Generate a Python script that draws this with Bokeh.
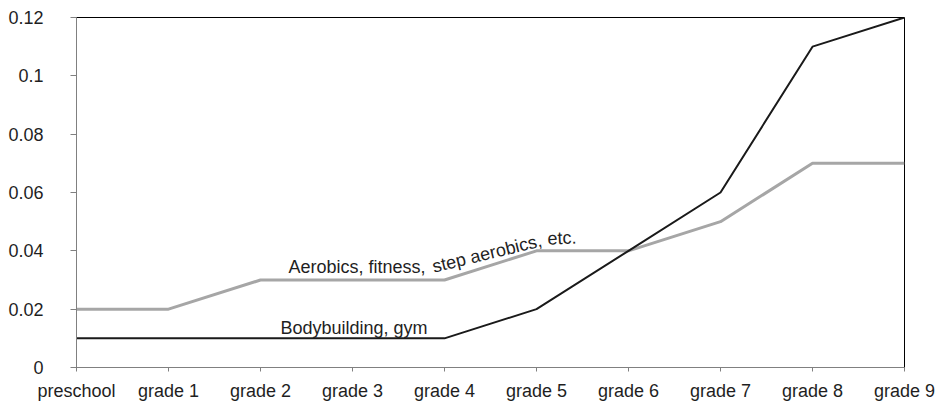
from bokeh.plotting import figure
from bokeh.models import Range1d, FixedTicker
from bokeh.core.properties import value
from bokeh.embed import file_html
from bokeh.resources import INLINE

categories = ["preschool", "grade 1", "grade 2", "grade 3", "grade 4",
              "grade 5", "grade 6", "grade 7", "grade 8", "grade 9"]
bodybuilding = [0.01, 0.01, 0.01, 0.01, 0.01, 0.02, 0.04, 0.06, 0.11, 0.12]
aerobics = [0.02, 0.02, 0.03, 0.03, 0.03, 0.04, 0.04, 0.05, 0.07, 0.07]
y_ticks = [0, 0.02, 0.04, 0.06, 0.08, 0.1, 0.12]
y_tick_labels = ["0", "0.02", "0.04", "0.06", "0.08", "0.1", "0.12"]

FONT = "Liberation Sans"
TXT = "#1f1f1f"

xs = list(range(len(categories)))

p = figure(width=937, height=403, output_backend="svg", toolbar_location=None,
           x_range=Range1d(0, len(categories) - 1), y_range=Range1d(0, 0.12),
           min_border_left=76, min_border_right=33, min_border_top=17, min_border_bottom=35)
p.xgrid.visible = False
p.ygrid.visible = False
p.background_fill_color = "white"
p.border_fill_color = "white"
p.outline_line_color = "black"
p.outline_line_width = 1

p.xaxis.ticker = FixedTicker(ticks=xs)
p.xaxis.major_label_overrides = {i: c for i, c in enumerate(categories)}
p.yaxis.ticker = FixedTicker(ticks=y_ticks)
p.yaxis.major_label_overrides = {t: l for t, l in zip(y_ticks, y_tick_labels)}

for ax in (p.xaxis[0], p.yaxis[0]):
    ax.axis_line_color = "#808080"
    ax.axis_line_width = 1
    ax.major_tick_line_color = "#808080"
    ax.minor_tick_line_color = None
    ax.major_tick_in = 0
    ax.major_label_text_font = FONT
    ax.major_label_text_font_size = "18px"
    ax.major_label_text_color = TXT
p.xaxis.major_tick_out = 4
p.xaxis.major_label_standoff = 9
p.yaxis.major_tick_out = 6
p.yaxis.major_label_standoff = 27

p.line(xs, aerobics, line_color="#a6a6a6", line_width=3)
p.line(xs, bodybuilding, line_color="#1a1a1a", line_width=2)

# series labels (following the lines)
lab_x = [2.304, 3.87, 5.12]
lab_y = [0.0345, 0.0345, 0.0441]
lab_t = ["Aerobics, fitness,", "step aerobics,", "etc."]
lab_a = [0.0, 0.239, 0.05]
p.text(lab_x, lab_y, text=lab_t, angle=lab_a, text_font=value(FONT),
       text_font_size="18px", text_color=TXT, text_baseline="alphabetic", text_align="left")
p.text([2.217], [0.0136], text=["Bodybuilding, gym"], text_font=value(FONT),
       text_font_size="18px", text_color=TXT, text_baseline="alphabetic", text_align="left")

open("out.html", "w").write(file_html(p, INLINE))
